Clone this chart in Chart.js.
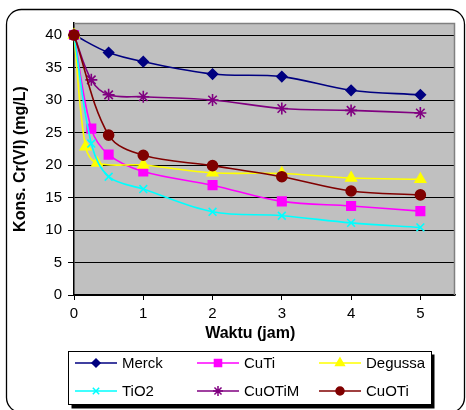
<!DOCTYPE html>
<html>
<head>
<meta charset="utf-8">
<script src="https://cdn.jsdelivr.net/npm/chart.js@4/dist/chart.umd.min.js"></script>
<style>
  html, body { margin: 0; padding: 0; background: #fff; }
  #wrap { width: 466px; height: 410px; }
</style>
</head>
<body>
<div id="wrap"><canvas id="konsChart" width="466" height="410"></canvas></div>
<script>
// time (jam) for each series
const timeMerck = [0, 0.5, 1, 2, 3, 4, 5];
const timeCuTi = [0, 0.25, 0.5, 1, 2, 3, 4, 5];
const timeDegussa = [0, 1 / 6, 1 / 3, 1, 2, 3, 4, 5];
const timeTiO2 = [0, 0.25, 0.5, 1, 2, 3, 4, 5];
const timeCuOTiM = [0, 0.25, 0.5, 1, 2, 3, 4, 5];
const timeCuOTi = [0, 0.5, 1, 2, 3, 4, 5];

// Kons. Cr(VI) (mg/L)
const merck = [40, 37.3, 35.9, 34.0, 33.6, 31.5, 30.8];
const cuTi = [40, 25.6, 21.6, 19.0, 16.9, 14.4, 13.7, 12.9];
const degussa = [40, 22.8, 20.3, 20.0, 18.8, 18.7, 18.0, 17.8];
const tiO2 = [40, 23.3, 18.2, 16.3, 12.8, 12.2, 11.1, 10.4];
const cuOTiM = [40, 33.1, 30.8, 30.5, 30.0, 28.7, 28.4, 28.0];
const cuOTi = [40, 24.6, 21.5, 19.9, 18.2, 16.0, 15.4];

const xTitle = 'Waktu (jam)';
const yTitle = 'Kons. Cr(VI) (mg/L)';

const FONT = "'Liberation Sans', Arial, sans-serif";

const pairs = (xs, ys) => xs.map((x, i) => ({ x: x, y: ys[i] }));

function series(label, xs, ys, color, style, radius, order) {
    return {
        label: label,
        data: pairs(xs, ys),
        borderColor: color,
        backgroundColor: color,
        pointBackgroundColor: color,
        pointBorderColor: color,
        pointStyle: style,
        pointRadius: radius,
        pointBorderWidth: 1.6,
        borderWidth: 1.6,
        tension: 0.35,
        clip: false,
        order: order
    };
}

const datasets = [
    series('Merck', timeMerck, merck, '#000080', 'rectRot', 5, 6),
    series('CuTi', timeCuTi, cuTi, '#FF00FF', 'rect', 6, 5),
    series('Degussa', timeDegussa, degussa, '#FFFF00', 'triangle', 6, 4),
    series('TiO2', timeTiO2, tiO2, '#00FFFF', 'crossRot', 5.5, 3),
    series('CuOTiM', timeCuOTiM, cuOTiM, '#800080', 'star', 6, 2),
    series('CuOTi', timeCuOTi, cuOTi, '#800000', 'circle', 5, 1)
];

// gray plot area, rounded frame, x title and boxed legend
const framePlugin = {
    id: 'frame',
    beforeDraw(chart) {
        const ctx = chart.ctx;
        const a = chart.chartArea;
        ctx.save();
        ctx.fillStyle = '#fff';
        ctx.fillRect(0, 0, chart.width, chart.height);
        ctx.strokeStyle = '#000';
        ctx.lineWidth = 1.3;
        ctx.beginPath();
        ctx.roundRect(6.5, 9.5, 458, 403, 15);
        ctx.stroke();
        ctx.fillStyle = '#C0C0C0';
        ctx.fillRect(a.left, a.top, a.right - a.left, a.bottom - a.top);
        ctx.restore();
    },
    beforeDatasetsDraw(chart) {
        const ctx = chart.ctx;
        const a = chart.chartArea;
        ctx.save();
        ctx.strokeStyle = '#808080';
        ctx.lineWidth = 1.5;
        ctx.beginPath();
        ctx.moveTo(a.left, a.top + 0.5);
        ctx.lineTo(a.right - 0.5, a.top + 0.5);
        ctx.lineTo(a.right - 0.5, a.bottom);
        ctx.stroke();
        ctx.restore();
    },
    afterDraw(chart) {
        const ctx = chart.ctx;
        const xs = chart.scales.x;
        ctx.save();

        // x axis title, centred under the 0..5 range like the original
        ctx.fillStyle = '#000';
        ctx.font = 'bold 16px ' + FONT;
        ctx.textAlign = 'center';
        ctx.textBaseline = 'middle';
        ctx.fillText(xTitle, (xs.getPixelForValue(0) + xs.getPixelForValue(5)) / 2 + 3, 334);

        // legend: shadow then box
        ctx.fillStyle = '#000';
        ctx.fillRect(71.5, 354.5, 363, 54);
        ctx.fillStyle = '#fff';
        ctx.fillRect(68.5, 351.5, 363, 53);
        ctx.strokeStyle = '#000';
        ctx.lineWidth = 1;
        ctx.strokeRect(68.5, 351.5, 363, 53);

        const colX = [75, 197, 319];
        const rowY = [363, 391];
        ctx.font = '15px ' + FONT;
        ctx.textBaseline = 'middle';
        ctx.textAlign = 'left';
        datasets.forEach((ds, i) => {
            const x0 = colX[i % 3];
            const y = rowY[Math.floor(i / 3)];
            ctx.strokeStyle = ds.borderColor;
            ctx.lineWidth = 1.6;
            ctx.beginPath();
            ctx.moveTo(x0, y);
            ctx.lineTo(x0 + 42, y);
            ctx.stroke();
            ctx.fillStyle = ds.borderColor;
            ctx.lineWidth = 1.5;
            if (Chart.helpers && Chart.helpers.drawPoint) {
                Chart.helpers.drawPoint(ctx, {
                    pointStyle: ds.pointStyle,
                    radius: ds.pointRadius - 1,
                    rotation: 0,
                    borderWidth: 1.5
                }, x0 + 21, y);
            }
            ctx.fillStyle = '#000';
            ctx.fillText(ds.label, x0 + 47, y + 1);
        });
        ctx.restore();
    }
};

const ctx = document.getElementById('konsChart').getContext('2d');
new Chart(ctx, {
    type: 'line',
    data: { datasets: datasets },
    plugins: [framePlugin],
    options: {
        responsive: false,
        animation: false,
        layout: {
            padding: { left: 8, top: 23, right: 11, bottom: 63 }
        },
        plugins: {
            legend: { display: false },
            tooltip: { enabled: false }
        },
        scales: {
            x: {
                type: 'linear',
                min: 0,
                max: 5.5,
                afterFit: (scale) => { scale.height = 52; },
                ticks: {
                    stepSize: 1,
                    includeBounds: false,
                    padding: 5,
                    color: '#000',
                    font: { family: FONT, size: 15 }
                },
                grid: {
                    drawOnChartArea: false,
                    drawTicks: true,
                    tickLength: 5,
                    tickColor: '#000'
                },
                border: { color: '#000', width: 1.5 },
                title: { display: false }
            },
            y: {
                min: 0,
                max: 41.85,
                afterFit: (scale) => { scale.width = 66; },
                ticks: {
                    stepSize: 5,
                    includeBounds: false,
                    padding: 6,
                    color: '#000',
                    font: { family: FONT, size: 15 }
                },
                grid: {
                    color: '#000',
                    lineWidth: 1,
                    tickLength: 6,
                    tickColor: '#000'
                },
                border: { color: '#000', width: 1.5 },
                title: {
                    display: true,
                    text: yTitle,
                    color: '#000',
                    padding: { top: 3, bottom: 0 },
                    font: { family: FONT, size: 16, weight: 'bold' }
                }
            }
        }
    }
});
</script>
</body>
</html>
